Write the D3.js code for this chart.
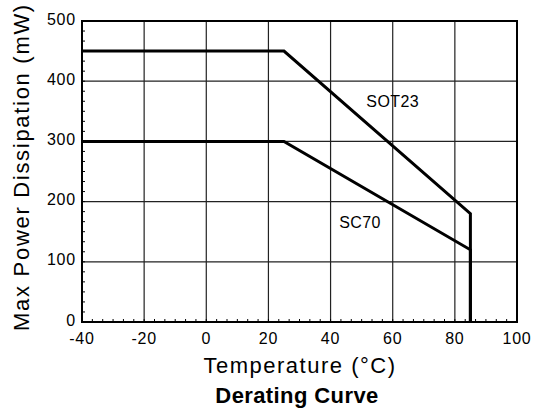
<!DOCTYPE html>
<html>
<head>
<meta charset="utf-8">
<script src="https://cdn.jsdelivr.net/npm/d3@7"></script>
<style>
  body { margin: 0; background: #fff; }
  svg { display: block; font-family: "Liberation Sans", Arial, Helvetica, sans-serif; }
</style>
</head>
<body>
<div id="chart"></div>
<script>
// Derating curve data
const temperatures = [-40, 25, 85, 85];
const sot23Power = [450, 450, 180, 0];
const sc70Power = [300, 300, 120, 0];
const xTicks = [-40, -20, 0, 20, 40, 60, 80, 100];
const yTicks = [0, 100, 200, 300, 400, 500];
const seriesLabels = [
    { name: 'SOT23', t: 60, p: 367 },
    { name: 'SC70', t: 49.5, p: 166 }
];

const width = 533, height = 410;
const margin = { top: 21, right: 16, bottom: 88, left: 82 };
const plotW = width - margin.left - margin.right;
const plotH = height - margin.top - margin.bottom;

const svg = d3.select('#chart').append('svg')
    .attr('width', width)
    .attr('height', height);

const g = svg.append('g')
    .attr('transform', `translate(${margin.left},${margin.top})`);

const x = d3.scaleLinear().domain([-40, 100]).range([0, plotW]);
const y = d3.scaleLinear().domain([0, 500]).range([plotH, 0]);

// Grid lines
g.append('g')
    .selectAll('line')
    .data(xTicks)
    .join('line')
    .attr('x1', d => x(d)).attr('x2', d => x(d))
    .attr('y1', 0).attr('y2', plotH)
    .attr('stroke', '#222').attr('stroke-width', 1.2);

g.append('g')
    .selectAll('line')
    .data(yTicks)
    .join('line')
    .attr('x1', 0).attr('x2', plotW)
    .attr('y1', d => y(d)).attr('y2', d => y(d))
    .attr('stroke', '#222').attr('stroke-width', 1.2);

// Minor ticks (6 divisions per major), pointing inward
const xMinor = d3.range(-40, 100, 20 / 6);
const yMinor = d3.range(0, 500, 100 / 6);

g.append('g')
    .selectAll('line')
    .data(xMinor)
    .join('line')
    .attr('x1', d => x(d)).attr('x2', d => x(d))
    .attr('y1', plotH).attr('y2', plotH - 3)
    .attr('stroke', '#000').attr('stroke-width', 1);

g.append('g')
    .selectAll('line')
    .data(yMinor)
    .join('line')
    .attr('x1', 0).attr('x2', 3)
    .attr('y1', d => y(d)).attr('y2', d => y(d))
    .attr('stroke', '#000').attr('stroke-width', 1);

// Frame
g.append('rect')
    .attr('width', plotW).attr('height', plotH)
    .attr('fill', 'none')
    .attr('stroke', '#000').attr('stroke-width', 2);

// Curves
const line = d3.line()
    .x((d, i) => x(temperatures[i]))
    .y(d => y(d));

[sot23Power, sc70Power].forEach(series => {
    g.append('path')
        .datum(series)
        .attr('d', line)
        .attr('fill', 'none')
        .attr('stroke', '#000')
        .attr('stroke-width', 3)
        .attr('stroke-linejoin', 'miter');
});

// Curve labels
g.append('g')
    .selectAll('text')
    .data(seriesLabels)
    .join('text')
    .attr('x', d => x(d.t))
    .attr('y', d => y(d.p))
    .attr('dy', '0.35em')
    .attr('text-anchor', 'middle')
    .style('font-size', '16px')
    .style('letter-spacing', '0.4px')
    .text(d => d.name);

// Tick labels
g.append('g')
    .selectAll('text')
    .data(xTicks)
    .join('text')
    .attr('x', d => x(d))
    .attr('y', plotH + 22)
    .attr('text-anchor', 'middle')
    .style('font-size', '16px')
    .style('letter-spacing', '0.8px')
    .text(d => d);

g.append('g')
    .selectAll('text')
    .data(yTicks)
    .join('text')
    .attr('x', -6)
    .attr('y', d => y(d) - 2)
    .attr('dy', '0.35em')
    .attr('text-anchor', 'end')
    .style('font-size', '16px')
    .style('letter-spacing', '0.8px')
    .text(d => d);

// Axis titles
svg.append('text')
    .attr('x', 300)
    .attr('y', 373)
    .attr('text-anchor', 'middle')
    .style('font-size', '22px')
    .style('letter-spacing', '1.5px')
    .text('Temperature (°C)');

svg.append('text')
    .attr('transform', 'translate(29,167) rotate(-90)')
    .attr('text-anchor', 'middle')
    .style('font-size', '22px')
    .style('letter-spacing', '1.7px')
    .text('Max Power Dissipation (mW)');

svg.append('text')
    .attr('x', 297)
    .attr('y', 403)
    .attr('text-anchor', 'middle')
    .style('font-size', '22px')
    .style('font-weight', 'bold')
    .style('letter-spacing', '0.4px')
    .text('Derating Curve');
</script>
</body>
</html>
